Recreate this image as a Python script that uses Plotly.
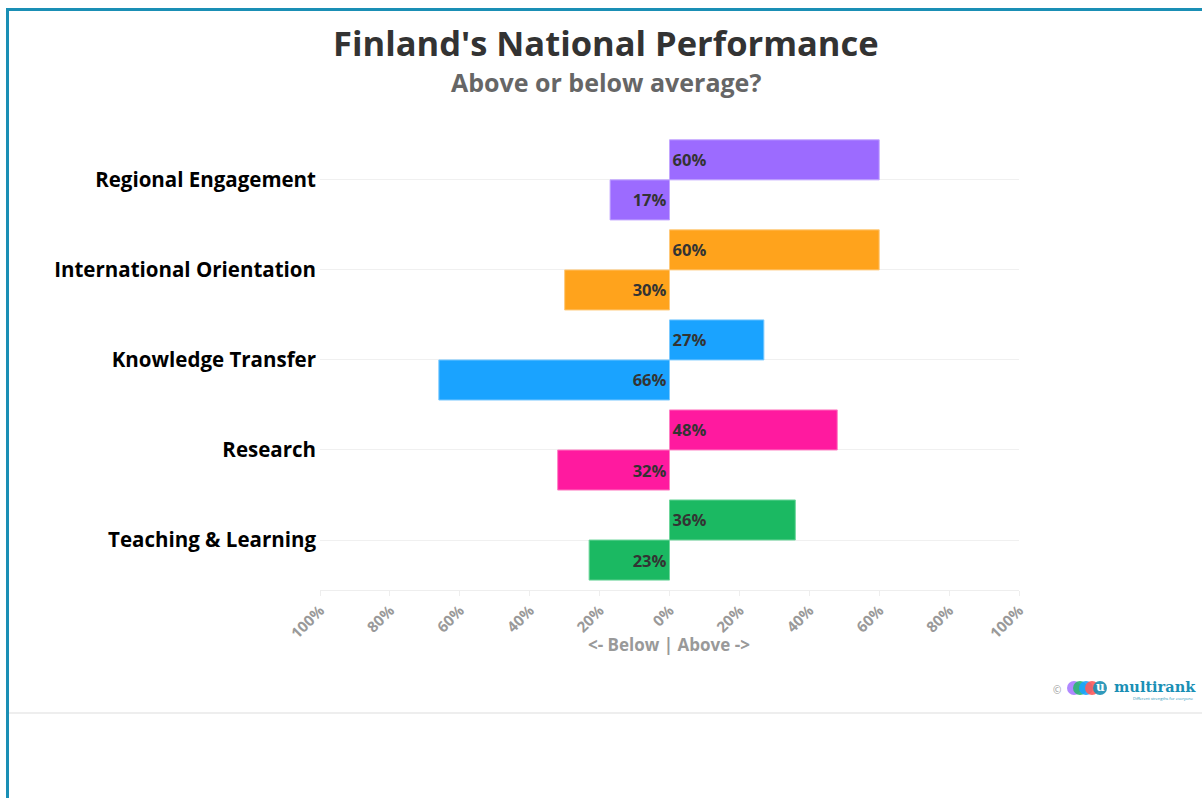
import plotly.graph_objects as go

# ---- data ----
categories = ["Teaching & Learning", "Research", "Knowledge Transfer",
              "International Orientation", "Regional Engagement"]
above = [36, 48, 27, 60, 60]
below = [23, 32, 66, 30, 17]
colors = ["#1bb962", "#ff1a9f", "#1aa3ff", "#ffa31c", "#9c6bff"]
line_colors = ["#6fd69c", "#ff7fc4", "#7ccaff", "#ffc97a", "#c3a6ff"]
tick_vals = [-100, -80, -60, -40, -20, 0, 20, 40, 60, 80, 100]
tick_text = ["100%", "80%", "60%", "40%", "20%", "0%", "20%", "40%", "60%", "80%", "100%"]
x_title = "<- Below | Above ->"

FONT = "Open Sans"

# plot area in pixels
L, R, T, B = 320, 1019, 129, 590
W, H = 1202, 798


def px(x):
    return (x - L) / (R - L)


def py(y):
    return (B - y) / (B - T)


fig = go.Figure()
fig.add_trace(go.Bar(
    y=categories, x=[-v for v in below], orientation="h", name="Below",
    marker=dict(color=colors, line=dict(color=line_colors, width=1)),
    text=[f"{v}%" for v in below], textposition="inside", insidetextanchor="start",
    textfont=dict(family=FONT, size=16.5, color="#333333", weight="bold"),
    textangle=0, cliponaxis=False, hoverinfo="skip",
))
fig.add_trace(go.Bar(
    y=categories, x=above, orientation="h", name="Above",
    marker=dict(color=colors, line=dict(color=line_colors, width=1)),
    text=[f"{v}%" for v in above], textposition="inside", insidetextanchor="start",
    textfont=dict(family=FONT, size=16.5, color="#333333", weight="bold"),
    textangle=0, cliponaxis=False, hoverinfo="skip",
))

shapes = [
    # top teal border
    dict(type="line", xref="paper", yref="paper", x0=px(7), x1=px(1202), y0=py(9.5), y1=py(9.5),
         line=dict(color="#1a8fb5", width=3)),
    # left teal border
    dict(type="line", xref="paper", yref="paper", x0=px(7.5), x1=px(7.5), y0=py(8), y1=py(798),
         line=dict(color="#1a8fb5", width=3)),
    # bottom grey separator
    dict(type="line", xref="paper", yref="paper", x0=px(9), x1=px(1202), y0=py(713), y1=py(713),
         line=dict(color="#eeeeee", width=2)),
]
# logo circles
logo_circles = [(1074, "#a77bff"), (1080, "#2bb673"), (1086, "#1aa3ff"), (1092, "#ff5a5a"), (1100, "#1a8fb5")]
for cx, c in logo_circles:
    shapes.append(dict(type="circle", xref="paper", yref="paper",
                       x0=px(cx - 7), x1=px(cx + 7), y0=py(695), y1=py(681),
                       fillcolor=c, line=dict(width=0), opacity=0.9))

annotations = [
    dict(text="Finland's National Performance", x=px(606), y=py(42), xref="paper", yref="paper",
         showarrow=False, font=dict(family=FONT, size=34.5, color="#333333", weight="bold"),
         xanchor="center", yanchor="middle"),
    dict(text="Above or below average?", x=px(606), y=py(82), xref="paper", yref="paper",
         showarrow=False, font=dict(family=FONT, size=25, color="#666666", weight="bold"),
         xanchor="center", yanchor="middle"),
    dict(text=x_title, x=px(669), y=py(644), xref="paper", yref="paper",
         showarrow=False, font=dict(family=FONT, size=17, color="#999999", weight="bold"),
         xanchor="center", yanchor="middle"),
    dict(text="©", x=px(1057), y=py(690), xref="paper", yref="paper", showarrow=False,
         font=dict(family=FONT, size=10, color="#999999"), xanchor="center", yanchor="middle"),
    dict(text="u", x=px(1100), y=py(687), xref="paper", yref="paper", showarrow=False,
         font=dict(family="DejaVu Serif", size=12, color="#ffffff", weight="bold"),
         xanchor="center", yanchor="middle"),
    dict(text="multirank", x=px(1112), y=py(686), xref="paper", yref="paper", showarrow=False,
         font=dict(family="DejaVu Serif", size=14.5, color="#1a8fb5", weight="bold"),
         xanchor="left", yanchor="middle"),
    dict(text="Different strengths for everyone", x=px(1196), y=py(698), xref="paper", yref="paper",
         showarrow=False, font=dict(family=FONT, size=4, color="#1a8fb5"),
         xanchor="right", yanchor="middle"),
]

fig.update_layout(
    width=W, height=H,
    margin=dict(l=L, r=W - R, t=T, b=H - B, pad=0),
    paper_bgcolor="white", plot_bgcolor="white",
    barmode="group", bargap=0.11, bargroupgap=0,
    showlegend=False,
    shapes=shapes, annotations=annotations,
    font=dict(family=FONT),
    xaxis=dict(
        range=[-100, 100], tickvals=tick_vals, ticktext=tick_text, tickangle=-45,
        tickfont=dict(family=FONT, size=15, color="#999999", weight="bold"),
        showgrid=False, zeroline=False, showline=True, linecolor="#eeeeee", linewidth=1,
        ticks="outside", ticklen=5, tickcolor="#eeeeee",
        fixedrange=True,
    ),
    yaxis=dict(
        categoryorder="array", categoryarray=categories, range=[-0.555, 4.565],
        showgrid=True, gridcolor="#f0f0f0", gridwidth=1, zeroline=False,
        tickfont=dict(family=FONT, size=20.5, color="#000000", weight="bold"),
        ticks="", ticklabelstandoff=3, fixedrange=True,
    ),
)

fig.write_html("out.html")
